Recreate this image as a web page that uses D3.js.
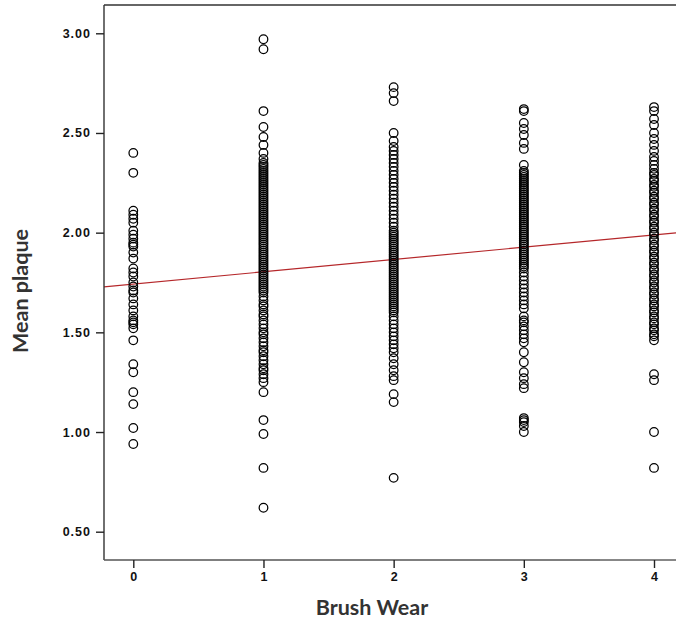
<!DOCTYPE html>
<html><head><meta charset="utf-8">
<script src="https://cdn.jsdelivr.net/npm/d3@7"></script>
<style>html,body{margin:0;padding:0;background:#fff;}svg{display:block;}</style>
</head><body>
<svg id="chart" width="676" height="620"></svg>
<script>
// ---- data ----
const categories = [0, 1, 2, 3, 4];
const yTicks = [0.5, 1.0, 1.5, 2.0, 2.5, 3.0];
const wear0 = [2.40,2.30,2.11,2.09,2.07,2.05,2.01,1.99,1.97,1.95,1.94,1.93,1.90,1.87,1.82,1.80,1.78,1.75,1.73,1.71,1.70,1.67,1.64,1.61,1.58,1.56,1.55,1.54,1.52,1.46,1.34,1.30,1.20,1.14,1.02,0.94];
const wear1 = [2.97,2.92,2.61,2.53,2.48,2.44,2.40,2.37,2.35,2.34,2.33,2.32,2.31,2.30,2.29,2.28,2.27,2.26,2.25,2.24,2.23,2.22,2.21,2.20,2.19,2.18,2.17,2.16,2.15,2.14,2.13,2.12,2.11,2.10,2.09,2.08,2.07,2.06,2.05,2.04,2.03,2.02,2.01,2.00,1.99,1.98,1.97,1.96,1.95,1.94,1.93,1.92,1.91,1.90,1.89,1.88,1.87,1.86,1.85,1.84,1.83,1.82,1.81,1.80,1.79,1.78,1.77,1.76,1.75,1.74,1.73,1.72,1.71,1.70,1.68,1.66,1.64,1.63,1.61,1.59,1.58,1.56,1.54,1.52,1.50,1.49,1.47,1.45,1.43,1.41,1.40,1.38,1.36,1.34,1.32,1.31,1.29,1.27,1.25,1.20,1.06,0.99,0.82,0.62];
const wear2 = [2.73,2.70,2.66,2.50,2.46,2.43,2.41,2.39,2.37,2.35,2.33,2.31,2.29,2.27,2.25,2.23,2.21,2.19,2.17,2.15,2.13,2.11,2.09,2.07,2.05,2.03,2.01,2.00,1.99,1.98,1.97,1.96,1.95,1.94,1.93,1.92,1.91,1.90,1.89,1.88,1.87,1.86,1.85,1.84,1.83,1.82,1.81,1.80,1.79,1.78,1.77,1.76,1.75,1.74,1.73,1.72,1.71,1.70,1.69,1.68,1.67,1.66,1.65,1.64,1.63,1.62,1.61,1.60,1.58,1.56,1.54,1.52,1.50,1.48,1.46,1.44,1.42,1.40,1.37,1.34,1.31,1.28,1.26,1.19,1.15,0.77];
const wear3 = [2.62,2.61,2.55,2.52,2.49,2.45,2.42,2.34,2.31,2.30,2.29,2.28,2.27,2.26,2.25,2.24,2.23,2.22,2.21,2.20,2.19,2.18,2.17,2.16,2.15,2.14,2.13,2.12,2.11,2.10,2.09,2.08,2.07,2.06,2.05,2.04,2.03,2.02,2.01,2.00,1.99,1.98,1.97,1.96,1.95,1.94,1.93,1.92,1.91,1.90,1.89,1.88,1.87,1.86,1.85,1.84,1.83,1.82,1.80,1.78,1.76,1.74,1.72,1.70,1.68,1.66,1.64,1.62,1.58,1.56,1.55,1.53,1.51,1.49,1.47,1.45,1.40,1.35,1.30,1.27,1.24,1.22,1.07,1.06,1.05,1.03,1.00];
const wear4 = [2.63,2.61,2.57,2.54,2.50,2.47,2.44,2.41,2.38,2.36,2.34,2.32,2.30,2.29,2.27,2.26,2.24,2.23,2.21,2.20,2.18,2.17,2.15,2.14,2.12,2.11,2.09,2.08,2.06,2.05,2.03,2.02,2.00,1.99,1.97,1.96,1.94,1.93,1.91,1.90,1.88,1.87,1.85,1.84,1.82,1.81,1.79,1.78,1.76,1.75,1.73,1.72,1.70,1.69,1.67,1.66,1.64,1.63,1.61,1.60,1.58,1.57,1.55,1.54,1.52,1.51,1.49,1.48,1.46,1.29,1.26,1.00,0.82];
const fitIntercept = 1.742;
const fitSlope = 0.0617;
const xTitle = "Brush Wear";
const yTitle = "Mean plaque";

// ---- layout ----
const W = 676, H = 620;
const L = 104, T = 5, B = 560, R = 700;
const svg = d3.select("#chart");
const x = d3.scaleLinear().domain([0, 4]).range([133.3, 654]);
const y = d3.scaleLinear().domain([0.5, 3.0]).range([531.7, 33.3]);

const groups = [wear0, wear1, wear2, wear3, wear4];
const points = [];
groups.forEach((arr, i) => arr.forEach(v => points.push({c: categories[i], v})));

svg.append("defs").append("clipPath").attr("id", "clip")
  .append("rect").attr("x", L).attr("y", T).attr("width", R - L).attr("height", B - T);

// regression line
const x0 = x.invert(L), x1 = x.invert(W);
svg.append("line")
  .attr("clip-path", "url(#clip)")
  .attr("x1", x(x0)).attr("y1", y(fitIntercept + fitSlope * x0))
  .attr("x2", x(x1)).attr("y2", y(fitIntercept + fitSlope * x1))
  .attr("stroke", "#b5272a").attr("stroke-width", 1.2);

// points
svg.append("g").attr("clip-path", "url(#clip)")
  .selectAll("circle").data(points).join("circle")
  .attr("cx", d => x(d.c)).attr("cy", d => y(d.v)).attr("r", 4.3)
  .attr("fill", "none").attr("stroke", "#000").attr("stroke-width", 1.25);

// frame
svg.append("line").attr("x1", L).attr("x2", W).attr("y1", T).attr("y2", T)
  .attr("stroke", "#333").attr("stroke-width", 1.6);
svg.append("line").attr("x1", L).attr("x2", L).attr("y1", T).attr("y2", B)
  .attr("stroke", "#333").attr("stroke-width", 1.4);
svg.append("line").attr("x1", L).attr("x2", 600).attr("y1", B).attr("y2", B)
  .attr("stroke", "#555").attr("stroke-width", 1.6);
svg.append("line").attr("x1", 600).attr("x2", W).attr("y1", B).attr("y2", B)
  .attr("stroke", "#111").attr("stroke-width", 1);

// y axis
const yAxis = d3.axisLeft(y).tickValues(yTicks).tickFormat(d3.format(".2f")).tickSize(8).tickPadding(5);
const gy = svg.append("g").attr("transform", `translate(${L},0)`).call(yAxis);
gy.select(".domain").remove();
gy.selectAll(".tick line").attr("stroke", "#222").attr("stroke-width", 1.4);
gy.selectAll(".tick text").attr("fill", "#111")
  .style("font-family", "'Liberation Sans', Arial, sans-serif")
  .style("font-weight", "bold").style("font-size", "12.5px").style("letter-spacing", "1px");

// x axis
const xAxis = d3.axisBottom(x).tickValues(categories).tickFormat(d3.format("d")).tickSize(8).tickPadding(4);
const gx = svg.append("g").attr("transform", `translate(0,${B})`).call(xAxis);
gx.select(".domain").remove();
gx.selectAll(".tick line").attr("stroke", "#222").attr("stroke-width", 1.4);
gx.selectAll(".tick text").attr("fill", "#111")
  .style("font-family", "'Liberation Sans', Arial, sans-serif")
  .style("font-weight", "bold").style("font-size", "12.5px");

// titles
svg.append("text").attr("x", 372).attr("y", 615).attr("text-anchor", "middle")
  .attr("fill", "#333").style("font-family", "Lato, sans-serif")
  .style("font-weight", "bold").style("font-size", "21.5px").text(xTitle);
svg.append("text").attr("transform", "translate(28,291) rotate(-90)").attr("text-anchor", "middle")
  .attr("fill", "#333").style("font-family", "Lato, sans-serif")
  .style("font-weight", "bold").style("font-size", "21.5px").text(yTitle);
</script>
</body></html>
